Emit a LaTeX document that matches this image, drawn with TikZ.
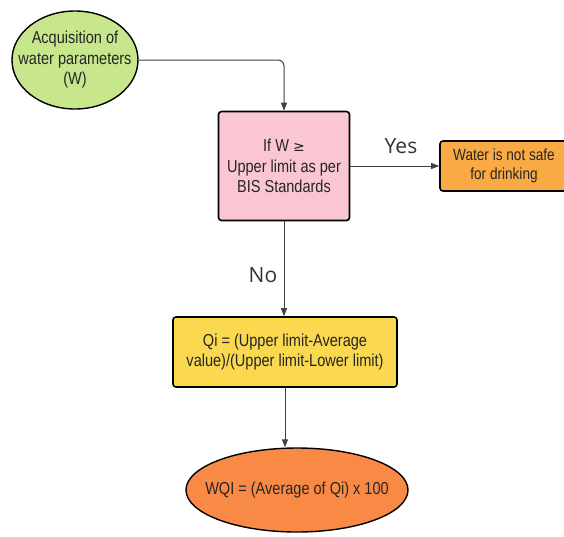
\documentclass[tikz,border=0pt]{standalone}
\usepackage{fontspec}
\setmainfont{Liberation Sans}[FakeStretch=0.84]
\newfontfamily\lblfont{Open Sans}
\usetikzlibrary{arrows.meta,shapes.geometric}
\definecolor{cgreen}{HTML}{C8E68C}
\definecolor{cpink}{HTML}{F9C6D2}
\definecolor{corange}{HTML}{F9AA44}
\definecolor{cyellow}{HTML}{FAD850}
\definecolor{cdeep}{HTML}{F88A45}
\definecolor{ctext}{HTML}{262626}
\tikzset{
  shapebox/.style={draw=black, line width=1.6pt, rounded corners=3pt, align=center, text=ctext, font=\fontsize{17.3}{20.5}\selectfont},
  oval/.style={ellipse, draw=black, line width=1.4pt, inner sep=0pt},
  ovaltext/.style={align=center, text=ctext, font=\fontsize{17.3}{20.5}\selectfont},
  conn/.style={draw=black!75, line width=1pt, -{Triangle[length=8pt,width=6pt]}},
  lbl/.style={font=\lblfont\fontsize{21}{25}\selectfont, text=black!80}
}
\begin{document}
\begin{tikzpicture}[x=1pt,y=-1pt]
\useasboundingbox (0,0) rectangle (564,536);
\node[oval, fill=cgreen, minimum width=126pt, minimum height=98pt,
  label={[ovaltext]center:Acquisition of\\water parameters\\(W)}] (acq) at (75,60) {};
\node[shapebox, fill=cpink, minimum width=131pt, minimum height=109pt] (test) at (284,166)
  {If W \fontspec{DejaVu Sans}\fontsize{14}{20.5}\selectfont ≥\\Upper limit as per\\BIS Standards};
\node[shapebox, fill=corange, minimum width=128pt, minimum height=50pt, inner xsep=1pt,
  font=\fontsize{16.2}{19.5}\selectfont] (unsafe) at (504,166)
  {Water is not safe\\for drinking};
\node[shapebox, fill=cyellow, minimum width=224pt, minimum height=70pt] (qi) at (285,352)
  {Qi = (Upper limit-Average\\value)/(Upper limit-Lower limit)};
\node[oval, fill=cdeep, minimum width=222pt, minimum height=84pt,
  label={[ovaltext]center:WQI = (Average of Qi) x 100}] (wqi) at (297,490) {};
\draw[conn, rounded corners=6pt] (acq.east) -| (test.north);
\draw[conn] (test.east) -- (unsafe.west);
\draw[conn] (test.south) -- (test.south |- qi.north);
\draw[conn] (qi.south) -- (qi.south |- wqi.north);
\node[lbl] (yes) at (401,146) {Yes};
\node[lbl] (no) at (263,275) {No};
\end{tikzpicture}
\end{document}
